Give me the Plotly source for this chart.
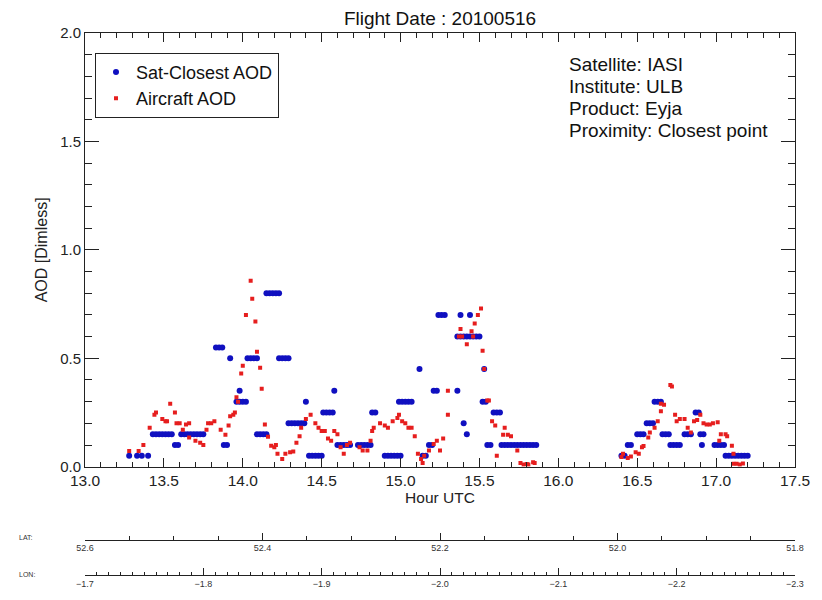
import plotly.graph_objects as go

# ---------------- data ----------------
sat_hour = [13.28, 13.33, 13.36, 13.40,
            13.43, 13.45, 13.47, 13.49, 13.51, 13.53, 13.55,
            13.57, 13.59,
            13.61, 13.63, 13.65, 13.67, 13.69, 13.71, 13.73, 13.75,
            13.83, 13.85, 13.87,
            13.88, 13.90,
            13.92,
            13.96, 13.98, 14.00, 14.02,
            13.98,
            14.03, 14.05, 14.07, 14.09,
            14.09, 14.11, 14.13, 14.15,
            14.15, 14.17, 14.19, 14.21, 14.23,
            14.23, 14.25, 14.27, 14.29,
            14.29, 14.31, 14.33, 14.35, 14.37, 14.39,
            14.40,
            14.42, 14.44, 14.46, 14.48, 14.50,
            14.51, 14.53, 14.55, 14.57,
            14.58,
            14.60, 14.62, 14.64, 14.66, 14.68,
            14.73, 14.75, 14.77, 14.79, 14.81,
            14.82, 14.84,
            14.90, 14.92, 14.94, 14.96, 14.98, 15.00,
            14.99, 15.01, 15.03, 15.05, 15.07,
            15.12,
            15.14, 15.16,
            15.18, 15.20,
            15.21, 15.23,
            15.24, 15.26, 15.28,
            15.36,
            15.38, 15.44,
            15.36, 15.38, 15.40, 15.42, 15.44, 15.46, 15.48, 15.50,
            15.40,
            15.42,
            15.52, 15.54,
            15.53,
            15.55, 15.57,
            15.59, 15.61, 15.63,
            15.64, 15.66, 15.68, 15.70, 15.72, 15.74, 15.76, 15.78, 15.80, 15.82, 15.84, 15.86,
            16.40, 16.42,
            16.44, 16.46,
            16.50, 16.52, 16.54,
            16.56, 16.58, 16.60,
            16.61, 16.63, 16.65,
            16.66, 16.68, 16.70,
            16.71, 16.73, 16.75, 16.77,
            16.80, 16.82, 16.84,
            16.87, 16.89,
            16.90, 16.92,
            16.91,
            16.99, 17.01, 17.03, 17.05,
            17.06, 17.08, 17.10, 17.12, 17.14, 17.16, 17.18, 17.20]
sat_aod = [0.05, 0.05, 0.05, 0.05,
           0.15, 0.15, 0.15, 0.15, 0.15, 0.15, 0.15,
           0.10, 0.10,
           0.15, 0.15, 0.15, 0.15, 0.15, 0.15, 0.15, 0.15,
           0.55, 0.55, 0.55,
           0.10, 0.10,
           0.50,
           0.30, 0.30, 0.30, 0.30,
           0.35,
           0.50, 0.50, 0.50, 0.50,
           0.15, 0.15, 0.15, 0.15,
           0.80, 0.80, 0.80, 0.80, 0.80,
           0.50, 0.50, 0.50, 0.50,
           0.20, 0.20, 0.20, 0.20, 0.20, 0.20,
           0.30,
           0.05, 0.05, 0.05, 0.05, 0.05,
           0.25, 0.25, 0.25, 0.25,
           0.35,
           0.10, 0.10, 0.10, 0.10, 0.10,
           0.10, 0.10, 0.10, 0.10, 0.10,
           0.25, 0.25,
           0.05, 0.05, 0.05, 0.05, 0.05, 0.05,
           0.30, 0.30, 0.30, 0.30, 0.30,
           0.45,
           0.05, 0.05,
           0.10, 0.10,
           0.35, 0.35,
           0.70, 0.70, 0.70,
           0.35,
           0.70, 0.70,
           0.60, 0.60, 0.60, 0.60, 0.60, 0.60, 0.60, 0.60,
           0.20,
           0.15,
           0.30, 0.30,
           0.45,
           0.10, 0.10,
           0.25, 0.25, 0.25,
           0.10, 0.10, 0.10, 0.10, 0.10, 0.10, 0.10, 0.10, 0.10, 0.10, 0.10, 0.10,
           0.05, 0.05,
           0.10, 0.10,
           0.15, 0.15, 0.15,
           0.20, 0.20, 0.20,
           0.30, 0.30, 0.30,
           0.15, 0.15, 0.15,
           0.10, 0.10, 0.10, 0.10,
           0.15, 0.15, 0.15,
           0.25, 0.25,
           0.15, 0.15,
           0.10,
           0.10, 0.10, 0.10, 0.10,
           0.05, 0.05, 0.05, 0.05, 0.05, 0.05, 0.05, 0.05]

air_hour = [13.28, 13.34, 13.37, 13.41, 13.44, 13.45, 13.49, 13.51, 13.52, 13.54,
            13.57, 13.58, 13.60, 13.62, 13.64, 13.66, 13.66, 13.70, 13.73, 13.75,
            13.77, 13.78, 13.80, 13.82, 13.86, 13.89, 13.91, 13.92, 13.94, 13.95,
            13.96, 13.97, 13.99, 14.00, 14.02, 14.05, 14.06, 14.08, 14.09, 14.11,
            14.12, 14.14, 14.16, 14.18, 14.20, 14.21, 14.22, 14.25, 14.27, 14.30,
            14.32, 14.34, 14.36, 14.37, 14.40, 14.43, 14.46, 14.48,
            14.50, 14.52, 14.54, 14.56, 14.58, 14.60, 14.62, 14.64, 14.66, 14.68,
            14.74, 14.76, 14.79, 14.81, 14.82, 14.83, 14.87, 14.90, 14.92, 14.95,
            14.98, 14.99, 15.01, 15.03, 15.05, 15.07, 15.09, 15.11, 15.13, 15.14,
            15.15, 15.18, 15.21, 15.23, 15.25, 15.27, 15.30, 15.30, 15.37, 15.38,
            15.39, 15.42, 15.45, 15.46, 15.47, 15.49, 15.51, 15.52, 15.53, 15.55,
            15.56, 15.58, 15.60, 15.61, 15.65, 15.66, 15.68, 15.70, 15.74, 15.76,
            15.78, 15.80, 15.81, 15.84, 15.85,
            16.40, 16.41, 16.44, 16.46, 16.49, 16.51, 16.53, 16.54, 16.57, 16.58,
            16.61, 16.63, 16.65, 16.65, 16.67, 16.71, 16.72, 16.74, 16.75, 16.77,
            16.80, 16.82, 16.84, 16.86, 16.88, 16.90, 16.92, 16.94, 16.96, 16.98,
            17.01, 17.02, 17.03, 17.06, 17.07, 17.10, 17.11, 17.11, 17.13, 17.15,
            17.17]
air_aod = [0.072, 0.072, 0.10, 0.18, 0.24, 0.25, 0.22, 0.21, 0.21, 0.29,
           0.25, 0.20, 0.20, 0.17, 0.195, 0.20, 0.135, 0.12, 0.11, 0.10,
           0.17, 0.20, 0.20, 0.21, 0.17, 0.147, 0.19, 0.233, 0.24, 0.25,
           0.32, 0.30, 0.43, 0.465, 0.70, 0.858, 0.774, 0.67, 0.53, 0.456,
           0.36, 0.195, 0.138, 0.097, 0.09, 0.10, 0.06, 0.036, 0.06, 0.067,
           0.07, 0.11, 0.14, 0.18, 0.22, 0.24, 0.20, 0.18,
           0.165, 0.165, 0.13, 0.12, 0.165, 0.15, 0.09, 0.06, 0.10, 0.11,
           0.09, 0.075, 0.075, 0.12, 0.165, 0.18, 0.20, 0.19, 0.18, 0.21,
           0.225, 0.24, 0.21, 0.20, 0.18, 0.18, 0.14, 0.06, 0.035, 0.017,
           0.05, 0.075, 0.105, 0.12, 0.075, 0.13, 0.24, 0.35, 0.60, 0.635,
           0.60, 0.565, 0.625, 0.60, 0.66, 0.70, 0.73, 0.535, 0.45, 0.305,
           0.305, 0.21, 0.19, 0.05, 0.147, 0.18, 0.147, 0.14, 0.075, 0.017,
           0.01, 0.013, 0.01, 0.02, 0.017,
           0.045, 0.06, 0.04, 0.047, 0.067, 0.06, 0.09, 0.095, 0.135, 0.158,
           0.18, 0.21, 0.256, 0.29, 0.286, 0.377, 0.37, 0.24, 0.21, 0.22,
           0.22, 0.18, 0.158, 0.21, 0.215, 0.24, 0.20, 0.195, 0.195, 0.20,
           0.205, 0.12, 0.15, 0.15, 0.14, 0.097, 0.06, 0.014, 0.014, 0.01,
           0.015]

x_ticks = [13.0, 13.5, 14.0, 14.5, 15.0, 15.5, 16.0, 16.5, 17.0, 17.5]
y_ticks = [0.0, 0.5, 1.0, 1.5, 2.0]
lat_ticks = [52.6, 52.4, 52.2, 52.0, 51.8]
lon_ticks = [-1.7, -1.8, -1.9, -2.0, -2.1, -2.2, -2.3]
info_lines = ["Satellite: IASI", "Institute: ULB", "Product: Eyja", "Proximity: Closest point"]

# ---------------- figure ----------------
FONT = "Liberation Sans, Arial, Helvetica, sans-serif"
W, H = 822, 600
L, R, T, B = 85, 795, 33, 473       # main plot box in pixels
AREA_BOTTOM = 592                    # bottom of plotting area (margin b = 8)
AREA_H = AREA_BOTTOM - T


def px(v):
    """pixel x -> paper fraction (plot area spans L..R)"""
    return (v - L) / (R - L)


def py(v):
    """pixel y -> paper fraction (plot area spans T..AREA_BOTTOM)"""
    return (AREA_BOTTOM - v) / AREA_H


def step(ticks):
    return round(abs(ticks[1] - ticks[0]), 6)


fig = go.Figure()
fig.add_trace(go.Scatter(x=sat_hour, y=sat_aod, mode="markers", name="Sat-Closest AOD",
                         marker=dict(symbol="circle", size=6, color="#1010c0", line=dict(width=0))))
fig.add_trace(go.Scatter(x=air_hour, y=air_aod, mode="markers", name="Aircraft AOD",
                         marker=dict(symbol="square", size=4, color="#e61e1e", line=dict(width=0))))
# carriers for the LAT / LON strip axes (own tiny subplots below the main plot)
fig.add_trace(go.Scatter(x=[], y=[], xaxis="x2", yaxis="y2", showlegend=False, hoverinfo="skip"))
fig.add_trace(go.Scatter(x=[], y=[], xaxis="x3", yaxis="y3", showlegend=False, hoverinfo="skip"))

axcol = "#222222"
LAT_Y, LON_Y = 547, 583


def strip_axis(ticks, minor_dt, anchor):
    return dict(domain=[0, 1], anchor=anchor, side="bottom",
                range=[ticks[0], ticks[-1]],
                tickmode="linear", tick0=ticks[0], dtick=step(ticks), tickformat=".1f",
                ticks="inside", ticklen=7, tickwidth=1, tickcolor=axcol,
                minor=dict(dtick=minor_dt, ticks="inside", ticklen=3.5, tickwidth=1, tickcolor=axcol),
                showline=True, linecolor=axcol, linewidth=1, showgrid=False, zeroline=False,
                ticklabelstandoff=0,
                tickfont=dict(size=9, family=FONT, color="#333333"), automargin=False)


def strip_yaxis(ypix):
    return dict(domain=[py(ypix), py(ypix - 12)], range=[0, 1], visible=False,
                showgrid=False, zeroline=False, fixedrange=True)


fig.update_layout(
    width=W, height=H,
    margin=dict(l=L, r=W - R, t=T, b=H - AREA_BOTTOM),
    paper_bgcolor="white", plot_bgcolor="white",
    font=dict(family=FONT, color="#111111"),
    title=dict(text="Flight Date : 20100516", x=440 / W, xref="container", xanchor="center",
               y=1 - 18 / H, yref="container", yanchor="middle",
               font=dict(size=19, family=FONT, color="#111111")),
    showlegend=True,
    legend=dict(x=px(95), y=py(53), xanchor="left", yanchor="top",
                bordercolor="#222222", borderwidth=1, bgcolor="white",
                font=dict(size=18, family=FONT, color="#111111"),
                itemwidth=30, tracegroupgap=0),
    xaxis=dict(domain=[0, 1], range=[x_ticks[0], x_ticks[-1]],
               tick0=x_ticks[0], dtick=step(x_ticks),
               tickformat=".1f", ticks="inside", ticklen=9, tickcolor=axcol,
               minor=dict(dtick=0.1, ticks="inside", ticklen=4.5, tickcolor=axcol),
               showline=True, linecolor=axcol, mirror="ticks",
               showgrid=False, zeroline=False,
               tickfont=dict(size=15.5, family=FONT, color="#222222"),
               title=dict(text="Hour UTC", font=dict(size=15.5, family=FONT, color="#222222"),
                          standoff=2)),
    yaxis=dict(domain=[py(B), 1], range=[y_ticks[0], y_ticks[-1]],
               tick0=y_ticks[0], dtick=step(y_ticks),
               tickformat=".1f", ticks="inside", ticklen=14, tickcolor=axcol,
               minor=dict(dtick=0.1, ticks="inside", ticklen=7, tickcolor=axcol),
               showline=True, linecolor=axcol, mirror="ticks",
               showgrid=False, zeroline=False,
               tickfont=dict(size=15, family=FONT, color="#222222"),
               title=dict(text="AOD [Dimless]", font=dict(size=16, family=FONT, color="#222222"),
                          standoff=8)),
    xaxis2=strip_axis(lat_ticks, 0.05, "y2"),
    yaxis2=strip_yaxis(LAT_Y),
    xaxis3=strip_axis(lon_ticks, 0.01, "y3"),
    yaxis3=strip_yaxis(LON_Y),
)

annotations = []
for i, line in enumerate(info_lines):
    annotations.append(dict(text=line, xref="paper", yref="paper", x=px(567), y=py(65 + 22.3 * i),
                            xanchor="left", yanchor="middle", showarrow=False,
                            font=dict(size=19, family=FONT, color="#111111")))
annotations.append(dict(text="LAT:", xref="paper", yref="paper", x=px(17), y=py(545),
                        xanchor="left", yanchor="middle", showarrow=False,
                        font=dict(size=7, family=FONT, color="#333333")))
annotations.append(dict(text="LON:", xref="paper", yref="paper", x=px(17), y=py(582),
                        xanchor="left", yanchor="middle", showarrow=False,
                        font=dict(size=7, family=FONT, color="#333333")))
fig.update_layout(annotations=annotations)

fig.write_html("out.html")
